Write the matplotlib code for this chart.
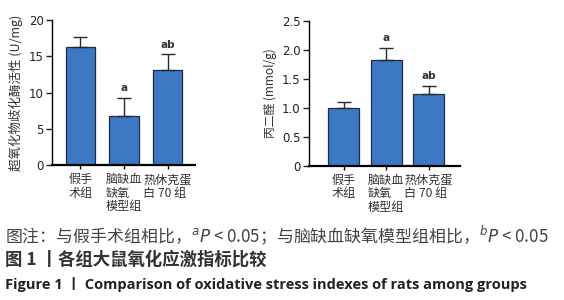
import matplotlib
matplotlib.use('Agg')
import matplotlib.pyplot as plt

plt.rcParams['font.family'] = ['Noto Sans CJK SC', 'DejaVu Sans']
plt.rcParams['mathtext.fontset'] = 'dejavusans'

groups = ["假手\n术组", "脑缺血\n缺氧\n模型组", "热休克蛋\n白 70 组"]

sod_mean = [16.3, 6.7, 13.1]
sod_err = [1.4, 2.6, 2.2]
sod_marks = ["", "a", "ab"]
sod_ticks = [0, 5, 10, 15, 20]
sod_ticklabels = ["0", "5", "10", "15", "20"]

mda_mean = [1.00, 1.82, 1.23]
mda_err = [0.10, 0.21, 0.15]
mda_marks = ["", "a", "ab"]
mda_ticks = [0, 0.5, 1.0, 1.5, 2.0, 2.5]
mda_ticklabels = ["0", "0.5", "1.0", "1.5", "2.0", "2.5"]

BAR = '#3d78c4'
EDGE = '#1c2b4a'


def draw_panel(ax, means, errs, marks, ticks, ticklabels, ylabel, xlim, width, gap, ylsize):
    x = range(len(means))
    ax.bar(x, means, width, color=BAR, edgecolor=EDGE, linewidth=0.9, zorder=2)
    ax.errorbar(x, means, yerr=[[0] * len(errs), errs], fmt='none',
                ecolor='#2a2a2a', elinewidth=1.0, capsize=5, capthick=1.0, zorder=3)
    for i, (m, e, t) in enumerate(zip(means, errs, marks)):
        if t:
            ax.text(i, m + e + gap, t, ha='center', va='bottom', fontsize=7.5,
                    fontweight='bold', family='DejaVu Sans', color='#333333')
    ax.set_ylim(0, ticks[-1])
    ax.set_xlim(*xlim)
    ax.set_yticks(ticks)
    ax.set_yticklabels(ticklabels, family='DejaVu Sans', fontsize=8.5)
    ax.set_xticks(list(x))
    ax.set_xticklabels(groups, fontsize=8.7, multialignment='left',
                       linespacing=1.05, color='#333333', fontweight='medium')
    ax.set_ylabel(ylabel, fontsize=ylsize, color='#333333', labelpad=4)
    for s in ['top', 'right']:
        ax.spines[s].set_visible(False)
    ax.spines['left'].set_linewidth(1.0)
    ax.spines['bottom'].set_linewidth(1.6)
    ax.tick_params(axis='y', length=4, width=1.0, pad=2, colors='#222222')
    ax.tick_params(axis='x', length=3, width=1.0, pad=3)


fig = plt.figure(figsize=(5.64, 3.0), dpi=100)

ax1 = fig.add_axes([0.092, 0.45, 0.254, 0.483])
draw_panel(ax1, sod_mean, sod_err, sod_marks, sod_ticks, sod_ticklabels,
           "超氧化物歧化酶活性 (U/mg)", (-0.655, 2.63), 0.67, 0.6, 9.0)

ax2 = fig.add_axes([0.548, 0.448, 0.268, 0.483])
draw_panel(ax2, mda_mean, mda_err, mda_marks, mda_ticks, mda_ticklabels,
           "丙二醛 (mmol/g)", (-0.81, 2.74), 0.73, 0.08, 8.5)

fig.text(5 / 564, 1 - 235 / 300,
         "图注：与假手术组相比，$^{a}P$ < 0.05；与脑缺血缺氧模型组相比，$^{b}P$ < 0.05",
         fontsize=12.2, color='#444444', va='center', ha='left')
fig.text(5 / 564, 1 - 260 / 300, "图 1 丨各组大鼠氧化应激指标比较",
         fontsize=12.5, fontweight='bold', color='#333333', va='center', ha='left')
fig.text(5 / 564, 1 - 285 / 300, "Figure 1 丨 Comparison of oxidative stress indexes of rats among groups",
         fontsize=10.5, fontweight='bold', color='#222222', va='center', ha='left',
         family=['Open Sans', 'Noto Sans CJK SC'])

fig.savefig('out.png', dpi=100)
